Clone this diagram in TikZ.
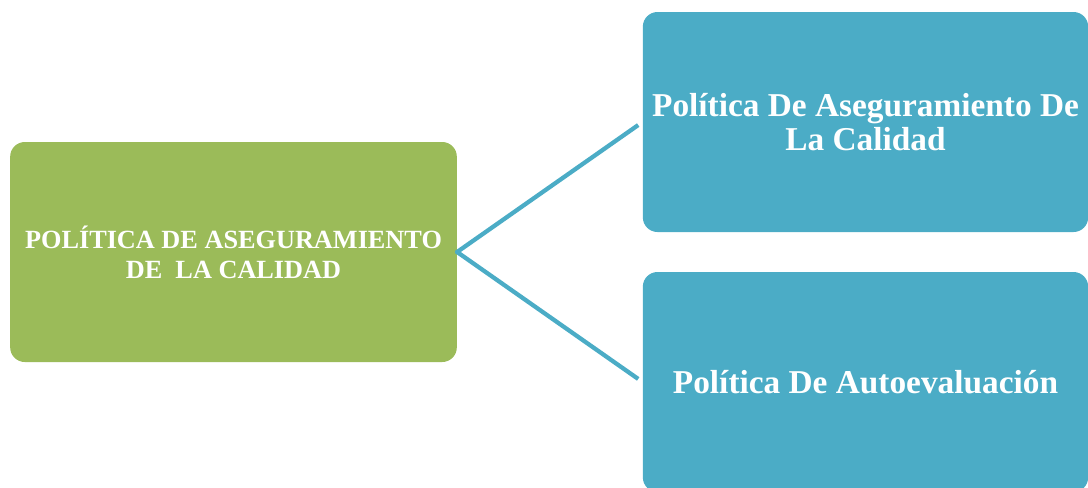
\documentclass[tikz,border=0pt]{standalone}
\usepackage{fontspec}
\setmainfont{Liberation Serif}
\usetikzlibrary{positioning}

\definecolor{hubgreen}{HTML}{9BBB59}
\definecolor{leafblue}{HTML}{4BACC6}

\tikzset{
        box/.style={rounded corners=11pt, inner sep=0pt, align=center,
                text=white, font=\bfseries, minimum height=165pt},
        hub/.style={box, fill=hubgreen, minimum width=335pt},
        leaf/.style={box, fill=leafblue, minimum width=334pt},
        link/.style={draw=leafblue, line width=3.2pt}
}

\begin{document}
\begin{tikzpicture}[x=0.75pt,y=-0.75pt]

        \useasboundingbox (0,0) rectangle (1088,487);

        \node[hub, font=\bfseries\fontsize{19.7}{22.5}\selectfont] (politica) at (233.5,252)
                {POLÍTICA DE ASEGURAMIENTO\\DE \ LA CALIDAD};

        \node[leaf, font=\bfseries\fontsize{25}{25}\selectfont] (asegura) at (865.5,122)
                {Política De Aseguramiento De\\La Calidad};
        \node[leaf, font=\bfseries\fontsize{25}{25}\selectfont] (autoeval) at (865.5,382)
                {Política De Autoevaluación};

        % Draw links
        \foreach \i in {asegura,autoeval}{
            \draw[link, shorten <=-1pt, shorten >=4pt] (politica.east) -- (\i.west);
 }

        \end{tikzpicture}
\end{document}
